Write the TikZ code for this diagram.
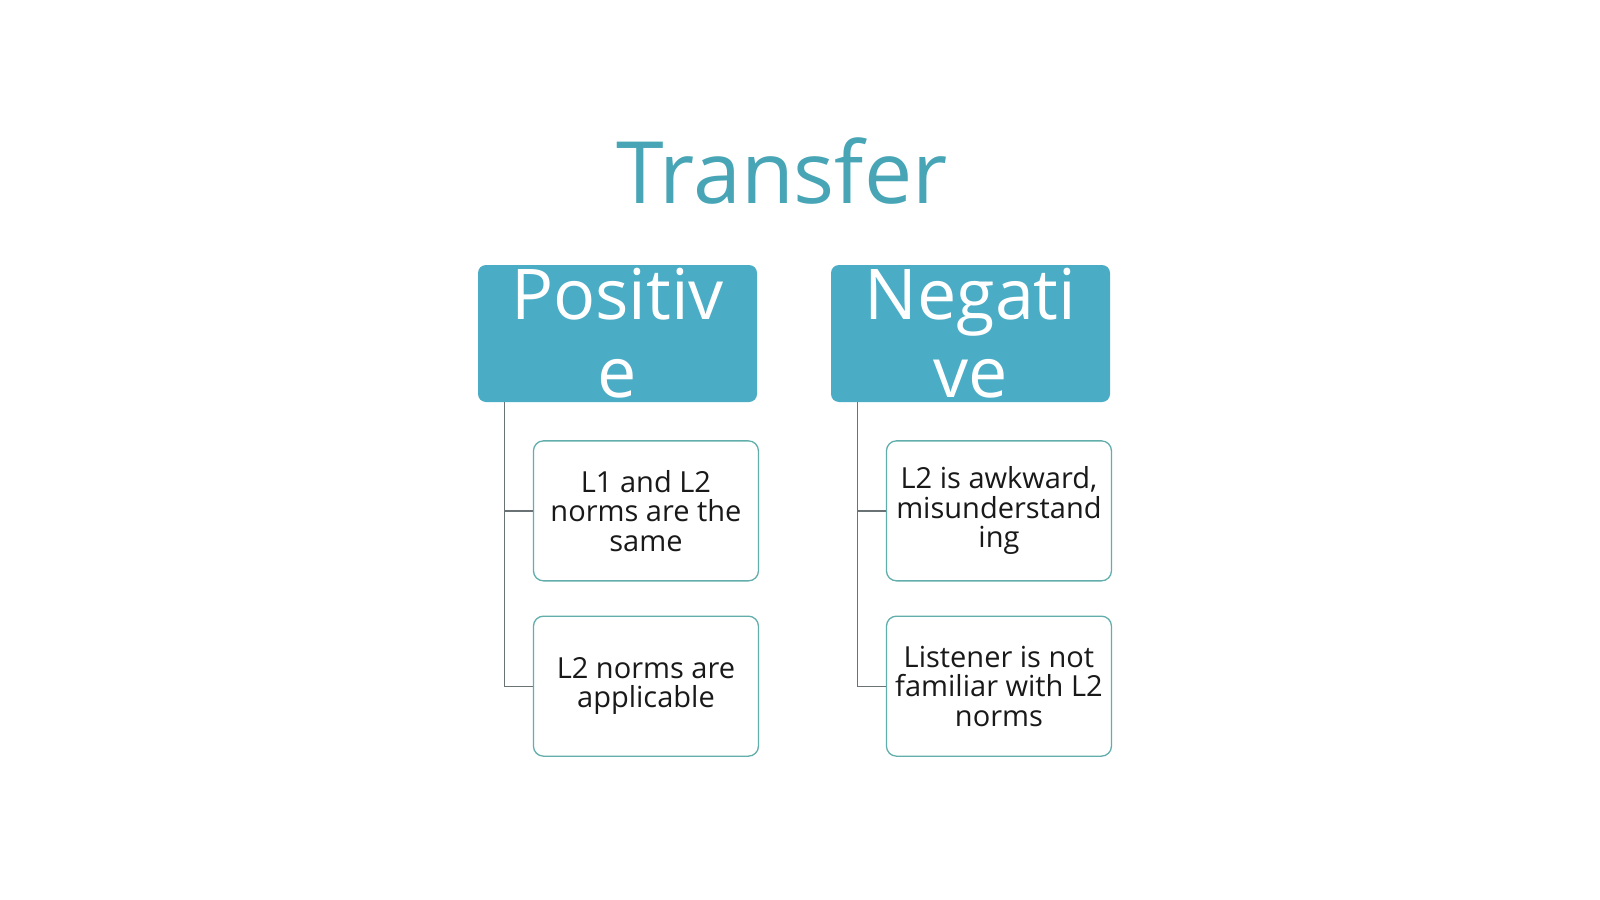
\documentclass[tikz,border=0pt]{standalone}
\usepackage{fontspec}
\setmainfont{Open Sans}
\usepackage{tikz}
\usetikzlibrary{positioning}
\definecolor{transferTeal}{RGB}{72, 165, 182}
\definecolor{headTeal}{RGB}{75, 172, 198}
\definecolor{boxTeal}{RGB}{98, 174, 172}
\definecolor{linkGray}{RGB}{105, 115, 118}

\begin{document}
\begin{tikzpicture}[
    x=1pt, y=-1pt,
    title/.style={font=\fontsize{86}{94}\selectfont, text=transferTeal, inner sep=0pt},
    head/.style={rectangle, fill=headTeal, rounded corners=8pt, minimum width=279pt, minimum height=137pt, align=center, text=white, inner sep=0pt, font=\fontsize{70}{78}\selectfont},
    item/.style={rectangle, draw=boxTeal, line width=1.3pt, fill=white, rounded corners=10pt, minimum width=225pt, minimum height=140pt, align=center, inner sep=0pt, text=black!90, font=\fontsize{29}{29.5}\selectfont},
    link/.style={draw=linkGray, line width=1.3pt}
]
\useasboundingbox (0,0) rectangle (1600,899);

% Title
\node[title, anchor=base] (transfer) at (782,203) {Transfer};

% Positive
\node[head] (pos) at (617.5,333.5) {Positiv\\e};
\node[item, below=38pt of pos.south west, anchor=north west, xshift=55pt] (pos1) {L1 and L2\\norms are the\\same};
\node[item, below=34pt of pos1] (pos2) {L2 norms are\\applicable};

% Negative
\node[head] (neg) at (970.5,333.5) {Negati\\ve};
\node[item, below=38pt of neg.south west, anchor=north west, xshift=55pt] (neg1) {L2 is awkward,\\misunderstand\\ing};
\node[item, below=34pt of neg1] (neg2) {Listener is not\\familiar with L2\\norms};

% Connectors
\draw[link] ([xshift=27pt]pos.south west) |- (pos1.west);
\draw[link] ([xshift=27pt]pos.south west) |- (pos2.west);
\draw[link] ([xshift=27pt]neg.south west) |- (neg1.west);
\draw[link] ([xshift=27pt]neg.south west) |- (neg2.west);

\end{tikzpicture}
\end{document}
